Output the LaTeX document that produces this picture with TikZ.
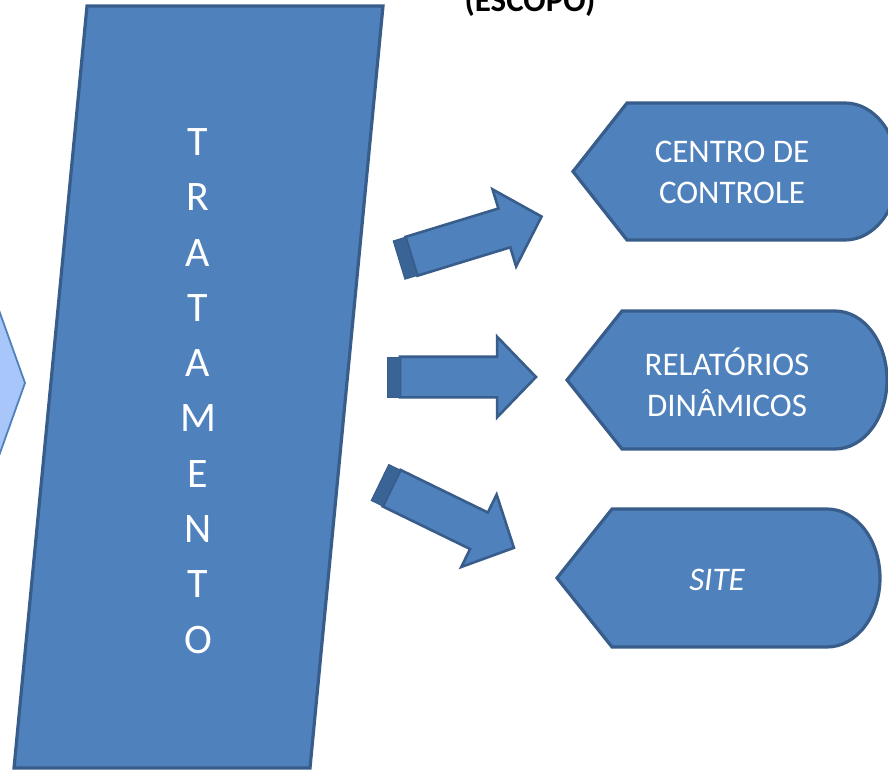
\documentclass[tikz,border=0pt]{standalone}
\usepackage{fontspec}
\setmainfont{Carlito}
\usetikzlibrary{shapes.arrows}
\definecolor{officeblue}{RGB}{79, 129, 189}
\definecolor{officeedge}{RGB}{56, 93, 138}
\definecolor{officeband}{RGB}{58, 99, 150}
\definecolor{skyblue}{RGB}{168, 198, 250}

\begin{document}
\begin{tikzpicture}[x=1pt, y=-1pt,
    blockarrow/.style={single arrow, fill=officeblue, draw=officeedge, line width=2.6pt,
                       minimum height=136pt, single arrow head extend=20pt,
                       single arrow tip angle=92, inner xsep=0pt, inner ysep=19pt, outer sep=0pt, anchor=tail},
    arrowband/.style={rectangle, fill=officeband, draw=officeedge, line width=1pt,
                      minimum width=13pt, minimum height=40pt, inner sep=0pt, outer sep=0pt, anchor=east},
    tratletter/.style={text=white, inner sep=0pt, font=\fontsize{42}{42}\selectfont},
    disptext/.style={text=white, align=center, font=\fontsize{33}{41}\selectfont}]
            \useasboundingbox                                             (0, 0) rectangle (888, 770);
            \clip                                                         (0, 0) rectangle (888, 770);
            % entrada (cortada a esquerda)
            \filldraw[fill=skyblue,    draw=officeblue, line width=1.8pt] (-40, 201) -- (25, 383) -- (-40, 565) -- cycle;
            % tratamento
            \filldraw[fill=officeblue, draw=officeedge, line width=3.2pt] (87, 6) -- (383, 6) -- (310, 768) -- (14, 768) -- cycle;
            \foreach \ch [count=\i from 0] in {T,R,A,T,A,M,E,N,T,O}
                \node[tratletter] (trat\i) at (198, 142+55.3*\i) {\ch};
            \node[anchor=base, font=\fontsize{33}{33}\selectfont\bfseries] (escopo) at (530, 11.5) {(ESCOPO)};
            % setas
            \node[blockarrow, rotate=17]  (setaum)    at (411.5, 256.3) {};
            \node[arrowband,  rotate=17]  (faixaum)   at (setaum.tail) {};
            \node[blockarrow]             (setadois)  at (400, 377) {};
            \node[arrowband]              (faixadois) at (setadois.tail) {};
            \node[blockarrow, rotate=-26] (setatres)  at (391.7, 488.2) {};
            \node[arrowband,  rotate=-26] (faixatres) at (setatres.tail) {};
            % saidas
            \filldraw[fill=officeblue, draw=officeedge, line width=3.2pt] (573, 171.5) -- (627, 103) -- (845, 103)
                 arc[start angle=90, end angle=-90, x radius=53pt, y radius=68.5pt] -- (627, 240) -- cycle;
            \filldraw[fill=officeblue, draw=officeedge, line width=3.2pt] (567, 380) -- (622, 311) -- (835, 311)
                 arc[start angle=90, end angle=-90, x radius=52pt, y radius=69pt] -- (622, 449) -- cycle;
            \filldraw[fill=officeblue, draw=officeedge, line width=3.2pt] (557, 578) -- (612, 509) -- (827, 509)
                 arc[start angle=90, end angle=-90, x radius=53pt, y radius=69pt] -- (612, 647) -- cycle;
            \node[disptext] (centro)     at (732, 172.5) {CENTRO DE\\CONTROLE};
            \node[disptext] (relatorios) at (727, 382)   {RELATÓRIOS\\DINÂMICOS};
            \node[disptext] (site)       at (717, 580)   {\itshape SITE};
\end{tikzpicture}
\end{document}
